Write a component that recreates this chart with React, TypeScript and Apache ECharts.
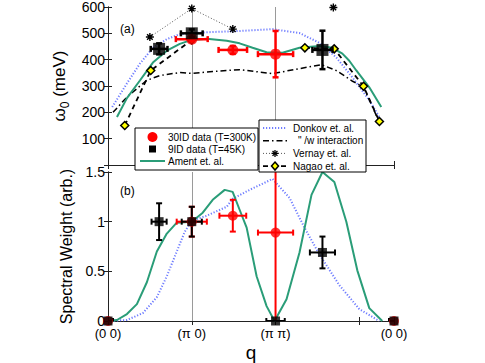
import React, { useEffect, useRef } from 'react';
import * as echarts from 'echarts';

const FONT = '"Liberation Sans", Arial, Helvetica, sans-serif';

// x positions along the path: (0 0)=0, (π 0)=1, (π π)=2, (0 0)=2+√2
const qMax = 3.414;
const qTickValues = [0, 1, 2, 3.414];
const qTickLabels = ['(0 0)', '(π 0)', '(π π)', '(0 0)'];
const gridLineQ = [1, 2];

// ---------- (a) dispersion, meV ----------
const amentQ = [0.107, 0.226, 0.381, 0.536, 0.702, 0.857, 1, 1.179, 1.417, 1.571, 1.726, 1.893, 2.083, 2.286, 2.524, 2.679, 2.798, 2.88, 2.964, 3.119, 3.262];
const amentE = [182, 254, 321, 389, 434, 460, 475, 479, 472, 462, 445, 428, 426, 445, 452, 445, 423, 396, 359, 295, 220];

const donkovQ = [0.05, 0.226, 0.381, 0.536, 0.702, 0.857, 1, 1.25, 1.571, 1.964, 2.286, 2.524, 2.726, 2.917, 3.119, 3.238];
const donkovE = [220, 310, 385, 445, 478, 497, 501, 505, 509, 516, 501, 464, 408, 333, 246, 183];

const interQ = [0.06, 0.226, 0.46, 0.62, 0.857, 1, 1.25, 1.571, 1.964, 2.286, 2.548, 2.73, 2.92, 3.05, 3.25];
const interE = [200, 258, 321, 340, 351, 348, 355, 362, 347, 366, 381, 358, 318, 296, 155];

const nagaoQ = [0.2, 0.51, 1, null, 2.35, 2.7, 3.05, 3.24];
const nagaoE = [150, 359, 475, null, 445, 441, 299, 165];

const vernayQ = [0.5, 1, 1.49, null, 2.69];
const vernayE = [486, 594, 516, null, 598];

const red30Q = [1, 1.49, 2];
const red30E = [478, 437, 421];
const red30dQ = [0.19, 0.17, 0.21];
const red30dE = [8, 15, 88];

const blk9Q = [0.61, 1, 2.56];
const blk9E = [441, 500, 437];
const blk9dQ = [0.1, 0.13, 0.12];
const blk9dE = [21, 15, 73];

// ---------- (b) spectral weight ----------
const amentSWQ = [0, 0.107, 0.226, 0.345, 0.464, 0.583, 0.702, 0.821, 1, 1.131, 1.25, 1.393, 1.488, 1.571, 1.655, 1.774, 1.893, 1.988, 2.131, 2.286, 2.429, 2.56, 2.702, 2.845, 2.976, 3.119, 3.274];
const amentSW = [0, 0.01, 0.07, 0.17, 0.39, 0.7, 0.88, 0.99, 1.0, 1.09, 1.22, 1.32, 1.3, 1.12, 0.94, 0.45, 0.15, 0, 0.22, 0.69, 1.27, 1.5, 1.4, 1.0, 0.51, 0.13, 0];

const donkovSWQ = [0, 0.226, 0.417, 0.583, 0.702, 0.821, 0.917, 1, 1.179, 1.417, 1.488, 1.69, 1.964, 2.167, 2.345, 2.524, 2.762, 3.0, 3.238];
const donkovSW = [0, 0.01, 0.08, 0.24, 0.45, 0.7, 0.9, 1.01, 1.06, 1.15, 1.23, 1.32, 1.43, 1.24, 0.94, 0.67, 0.36, 0.12, 0];

const red30SWQ = [0, 1, 1.49, 2, 3.414];
const red30SW = [0, 1.0, 1.06, 0.89, 0];
const red30dSWQ = [0, 0.18, 0.16, 0.21, 0];
const red30dSW = [0, 0.15, 0.16, 0.9, 0];

const blk9SWQ = [0, 0.61, 1, 2, 2.56, 3.414];
const blk9SW = [0, 1.0, 1.0, 0, 0.69, 0];
const blk9dSWQ = [0.06, 0.09, 0.12, 0.11, 0.15, 0.06];
const blk9dSW = [0, 0.185, 0.15, 0, 0.16, 0];

// legend entries
const legendLeft = ['30ID data (T=300K)', '9ID data (T=45K)', 'Ament et. al.'];
const legendRight = ['Donkov et. al.', '" /w interaction', 'Vernay et. al.', 'Nagao et. al.'];

const pairs = (xs: (number | null)[], ys: (number | null)[]) =>
  xs.map((x, i) => (x === null || ys[i] === null ? ['-', '-'] : [x, ys[i]]));
const quads = (xs: number[], ys: number[], dx: number[], dy: number[]) =>
  xs.map((x, i) => [x, ys[i], dx[i], dy[i]]);

function errorRender(color: string, lw: number, cap: number) {
  return (params: any, api: any) => {
    const x = api.value(0), y = api.value(1), dx = api.value(2), dy = api.value(3);
    const st = { stroke: color, lineWidth: lw, fill: 'none' };
    const ch: any[] = [];
    const ln = (x1: number, y1: number, x2: number, y2: number) =>
      ch.push({ type: 'line', shape: { x1, y1, x2, y2 }, style: st });
    if (dx > 0) {
      const a = api.coord([x - dx, y]);
      const b = api.coord([x + dx, y]);
      ln(a[0], a[1], b[0], b[1]);
      ln(a[0], a[1] - cap, a[0], a[1] + cap);
      ln(b[0], b[1] - cap, b[0], b[1] + cap);
    }
    if (dy > 0) {
      const a = api.coord([x, y - dy]);
      const b = api.coord([x, y + dy]);
      ln(a[0], a[1], b[0], b[1]);
      ln(a[0] - cap, a[1], a[0] + cap, a[1]);
      ln(b[0] - cap, b[1], b[0] + cap, b[1]);
    }
    return { type: 'group', children: ch };
  };
}

const AX = '#222';
const GREEN = '#2a9d78';
const BLUE = '#6e7cff';
const ASTERISK = 'path://M5,0L5,10M0,5L10,5M1.5,1.5L8.5,8.5M1.5,8.5L8.5,1.5';

const qLabel = (v: number) => {
  for (let i = 0; i < qTickValues.length; i++) {
    if (Math.abs(v - qTickValues[i]) < 1e-3) return qTickLabels[i];
  }
  return '';
};

function xAxes(grid: number, labels: boolean) {
  const base = {
    type: 'value', gridIndex: grid, min: 0, max: qMax, interval: 1,
    axisLine: { show: true, lineStyle: { color: AX, width: 1 } },
    axisTick: { show: true, inside: true, length: 4, lineStyle: { color: AX } },
    splitLine: { show: false },
  };
  return [
    {
      ...base, position: 'bottom',
      axisLabel: labels
        ? { show: true, formatter: qLabel, fontSize: 13, fontFamily: FONT, color: '#000', margin: 6, showMaxLabel: true, showMinLabel: true }
        : { show: false },
      name: labels ? 'q' : '',
      nameLocation: 'middle', nameGap: 22,
      nameTextStyle: { fontSize: 19, fontFamily: FONT, color: '#000' },
    },
    { ...base, position: 'top', axisLabel: { show: false } },
  ];
}

function yAxes(grid: number, min: number, max: number, interval: number, name: string, nameGap: number, hideZero: boolean, rich?: any) {
  const base = {
    type: 'value', gridIndex: grid, min, max, interval,
    axisLine: { show: true, lineStyle: { color: AX, width: 1 } },
    axisTick: { show: true, inside: true, length: 4, lineStyle: { color: AX } },
    splitLine: { show: false },
  };
  return [
    {
      ...base, position: 'left',
      axisLabel: {
        show: true, fontSize: 14, fontFamily: FONT, color: '#000', margin: 3,
        formatter: (v: number) => (hideZero && v === 0 ? '' : String(v)),
      },
      name, nameLocation: 'middle', nameGap, nameRotate: 90,
      nameTextStyle: { fontSize: 16, fontFamily: FONT, color: '#000', rich },
    },
    { ...base, position: 'right', axisLabel: { show: false } },
  ];
}

// ---- hand-built legends (graphic) ----
const Z = 100;
const seg = (x1: number, x2: number, y: number, style: any) => ({
  type: 'line', z: Z, shape: { x1, y1: y, x2, y2: y }, style: { fill: 'none', ...style },
});
const label = (x: number, y: number, text: string) => ({
  type: 'text', z: Z, x, y,
  style: { text, fontSize: 10, fontFamily: FONT, fill: '#000', verticalAlign: 'middle', align: 'left' },
});
const asterisk = (cx: number, cy: number, r: number) => ({
  type: 'group', z: Z,
  children: [
    { type: 'line', z: Z, shape: { x1: cx - r, y1: cy, x2: cx + r, y2: cy }, style: { stroke: '#000', lineWidth: 1.3 } },
    { type: 'line', z: Z, shape: { x1: cx, y1: cy - r, x2: cx, y2: cy + r }, style: { stroke: '#000', lineWidth: 1.3 } },
    { type: 'line', z: Z, shape: { x1: cx - r * 0.7, y1: cy - r * 0.7, x2: cx + r * 0.7, y2: cy + r * 0.7 }, style: { stroke: '#000', lineWidth: 1.3 } },
    { type: 'line', z: Z, shape: { x1: cx - r * 0.7, y1: cy + r * 0.7, x2: cx + r * 0.7, y2: cy - r * 0.7 }, style: { stroke: '#000', lineWidth: 1.3 } },
  ],
});

function buildLegends() {
  const L = { x: 135, y: 128, w: 123, h: 42, row: 12, iconX: 140, iconW: 25, textX: 168 };
  const R = { x: 259, y: 120, w: 107, h: 52, row: 12.7, iconX: 263, iconW: 24, textX: 293 };
  const ly = (i: number) => L.y + 9 + i * L.row;
  const ry = (i: number) => R.y + 8 + i * R.row;
  const lmid = L.iconX + L.iconW / 2;
  const rmid = R.iconX + R.iconW / 2;
  return [
    { type: 'rect', z: Z - 1, shape: { x: L.x, y: L.y, width: L.w, height: L.h }, style: { fill: '#fff', stroke: '#000', lineWidth: 1 } },
    { type: 'circle', z: Z, shape: { cx: lmid, cy: ly(0), r: 5 }, style: { fill: '#ff0000' } },
    label(L.textX, ly(0), legendLeft[0]),
    { type: 'rect', z: Z, shape: { x: lmid - 3.5, y: ly(1) - 3.5, width: 7, height: 7 }, style: { fill: '#000' } },
    label(L.textX, ly(1), legendLeft[1]),
    seg(L.iconX, L.iconX + L.iconW, ly(2), { stroke: GREEN, lineWidth: 2 }),
    label(L.textX, ly(2), legendLeft[2]),

    { type: 'rect', z: Z - 1, shape: { x: R.x, y: R.y, width: R.w, height: R.h }, style: { fill: '#fff', stroke: '#000', lineWidth: 1 } },
    seg(R.iconX, R.iconX + R.iconW, ry(0), { stroke: BLUE, lineWidth: 2, lineDash: [1.2, 1.8] }),
    label(R.textX, ry(0), legendRight[0]),
    seg(R.iconX, R.iconX + R.iconW, ry(1), { stroke: '#000', lineWidth: 1.5, lineDash: [6, 3, 1.5, 3] }),
    label(R.textX + 5, ry(1), legendRight[1]),
    seg(R.iconX, R.iconX + R.iconW, ry(2), { stroke: '#555', lineWidth: 1, lineDash: [1, 2] }),
    asterisk(rmid, ry(2), 3.5),
    label(R.textX, ry(2), legendRight[2]),
    seg(R.iconX, R.iconX + R.iconW, ry(3), { stroke: '#000', lineWidth: 1.8, lineDash: [5, 4] }),
    { type: 'polygon', z: Z, shape: { points: [[rmid, ry(3) - 4], [rmid + 3.5, ry(3)], [rmid, ry(3) + 4], [rmid - 3.5, ry(3)]] }, style: { fill: '#ffff00', stroke: '#000', lineWidth: 1.5 } },
    label(R.textX, ry(3), legendRight[3]),
  ];
}

export default function App() {
  const ref = useRef<HTMLDivElement>(null);
  useEffect(() => {
    if (!ref.current) return;
    const chart = echarts.init(ref.current, undefined, { renderer: 'svg' });
    const gridLines = {
      silent: true, symbol: 'none', z: 1,
      label: { show: false },
      lineStyle: { color: '#9a9a9a', width: 1, type: 'solid' },
      data: gridLineQ.map((q) => ({ xAxis: q })),
    };
    const top = { xAxisIndex: 0, yAxisIndex: 0 };
    const bot = { xAxisIndex: 2, yAxisIndex: 2 };
    const option: any = {
      animation: false,
      backgroundColor: '#fff',
      textStyle: { fontFamily: FONT },
      grid: [
        { left: 108, top: 5, width: 286, height: 160 },
        { left: 108, top: 172, width: 286, height: 164 },
      ],
      xAxis: [...xAxes(0, false), ...xAxes(1, true)],
      yAxis: [
        ...yAxes(0, 0, 600, 100, '{w|ω}{s|0}{w| (meV)}', 36, true, {
          w: { fontSize: 17, fontFamily: FONT, color: '#000', lineHeight: 22, verticalAlign: 'middle' },
          s: { fontSize: 12, fontFamily: FONT, color: '#000', lineHeight: 22, verticalAlign: 'bottom', padding: [8, 0, 0, 0] },
        }),
        ...yAxes(1, 0, 1.5, 0.5, 'Spectral Weight (arb.)', 28, false),
      ],
      graphic: [
        { type: 'text', left: 120, top: 23, style: { text: '(a)', fontSize: 12, fontFamily: FONT, fill: '#000' } },
        { type: 'text', left: 120, top: 185, style: { text: '(b)', fontSize: 12, fontFamily: FONT, fill: '#000' } },
        ...buildLegends(),
      ],
      series: [
        // ----- (a) -----
        {
          ...top, name: 'Donkov et. al.', type: 'line', z: 2, symbol: 'none',
          data: pairs(donkovQ, donkovE),
          lineStyle: { color: BLUE, width: 2, type: [1.2, 1.8] }, itemStyle: { color: BLUE },
        },
        {
          ...top, name: '" /w interaction', type: 'line', z: 2, symbol: 'none',
          data: pairs(interQ, interE),
          lineStyle: { color: '#000', width: 1.5, type: [6, 3, 1.5, 3] }, itemStyle: { color: '#000' },
        },
        {
          ...top, name: 'Vernay et. al.', type: 'line', z: 2, symbol: ASTERISK, symbolSize: 8,
          connectNulls: false, clip: false,
          data: pairs(vernayQ, vernayE),
          lineStyle: { color: '#555', width: 1, type: [1, 2] },
          itemStyle: { color: '#000', borderColor: '#000', borderWidth: 1.4 },
        },
        {
          ...top, name: 'Ament et. al.', type: 'line', z: 2, symbol: 'none',
          data: pairs(amentQ, amentE),
          lineStyle: { color: GREEN, width: 2 }, itemStyle: { color: GREEN },
          markLine: gridLines,
        },
        {
          ...top, name: 'Nagao et. al.', type: 'line', z: 2, symbol: 'diamond', symbolSize: 8,
          connectNulls: false,
          data: pairs(nagaoQ, nagaoE),
          lineStyle: { color: '#000', width: 1.8, type: [5, 4] },
          itemStyle: { color: '#ffff00', borderColor: '#000', borderWidth: 1.5 },
        },
        {
          ...top, type: 'custom', z: 3, clip: true, encode: { x: 0, y: 1 },
          renderItem: errorRender('#ff0000', 2.5, 3),
          data: quads(red30Q, red30E, red30dQ, red30dE),
        },
        {
          ...top, type: 'custom', z: 3, clip: true, encode: { x: 0, y: 1 },
          renderItem: errorRender('#000', 2.5, 3),
          data: quads(blk9Q, blk9E, blk9dQ, blk9dE),
        },
        {
          ...top, name: '30ID data (T=300K)', type: 'scatter', z: 4, clip: false,
          symbol: 'circle', symbolSize: 11,
          data: pairs(red30Q, red30E), itemStyle: { color: '#ff0000' },
        },
        {
          ...top, name: '9ID data (T=45K)', type: 'scatter', z: 4, clip: false,
          symbol: 'rect', symbolSize: 12,
          data: pairs(blk9Q, blk9E), itemStyle: { color: '#000' },
        },
        // ----- (b) -----
        {
          ...bot, name: 'Donkov et. al.', type: 'line', z: 2, symbol: 'none',
          data: pairs(donkovSWQ, donkovSW),
          lineStyle: { color: BLUE, width: 2, type: [1.2, 1.8] }, itemStyle: { color: BLUE },
        },
        {
          ...bot, name: 'Ament et. al.', type: 'line', z: 2, symbol: 'none',
          data: pairs(amentSWQ, amentSW),
          lineStyle: { color: GREEN, width: 2 }, itemStyle: { color: GREEN },
          markLine: gridLines,
        },
        {
          ...bot, type: 'custom', z: 3, clip: true, encode: { x: 0, y: 1 },
          renderItem: errorRender('#ff0000', 2, 3),
          data: quads(red30SWQ, red30SW, red30dSWQ, red30dSW),
        },
        {
          ...bot, type: 'custom', z: 3, clip: true, encode: { x: 0, y: 1 },
          renderItem: errorRender('#000', 2, 3),
          data: quads(blk9SWQ, blk9SW, blk9dSWQ, blk9dSW),
        },
        {
          ...bot, name: '30ID data (T=300K)', type: 'scatter', z: 4, clip: false,
          symbol: 'circle', symbolSize: 10,
          data: pairs(red30SWQ, red30SW), itemStyle: { color: '#ff0000' },
        },
        {
          ...bot, name: '9ID data (T=45K)', type: 'scatter', z: 4, clip: false,
          symbol: 'rect', symbolSize: 9,
          data: pairs(blk9SWQ, blk9SW), itemStyle: { color: '#000' },
        },
      ],
    };
    chart.setOption(option);
    return () => chart.dispose();
  }, []);
  return <div ref={ref} style={{ width: 485, height: 363, position: 'absolute', left: 0, top: 0 }} />;
}
